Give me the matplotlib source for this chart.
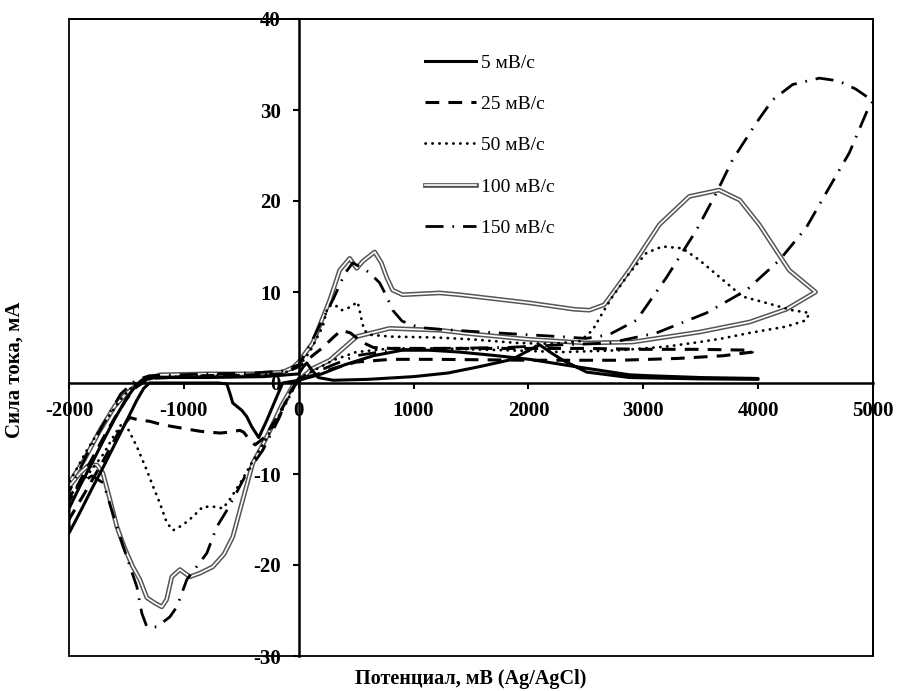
#!/usr/bin/env python

"""
Cyclic voltammograms at five scan rates (5 ... 150 mV/s).
Curves are closed loops: cathodic scan from 0, return from -2000,
anodic scan up to the vertex, then back to 0.
"""

import matplotlib
matplotlib.use('Agg')
import matplotlib.pyplot as plt
import matplotlib.patheffects as pe
from matplotlib.patches import Rectangle

plt.rcParams['font.family'] = ['Liberation Serif', 'DejaVu Serif']
plt.rcParams['axes.unicode_minus'] = False

# ---- data: potential (mV) and current (mA) ----
labels = ['5 мВ/с', '25 мВ/с', '50 мВ/с', '100 мВ/с', '150 мВ/с']

e5 = [0, -140, -278, -348, -409, -452, -496, -574, -600, -626, -700, -1000, -1300, -1350, -1410,
      -1500, -1600, -1700, -1800, -1900, -2000,
      -2000, -1900, -1800, -1700, -1600, -1500, -1420, -1350, -1250, -800, -300, -100, 0, 40, 70,
      110, 170, 300, 600, 1000, 1300, 1575, 1860, 1990, 2097, 2200, 2300, 2506, 2880, 3500, 4000,
      4000, 3500, 3054, 2880, 2620, 2358, 2010, 1723, 1400, 1140, 900, 650, 400, 200, 0]
i5 = [0.3, 0.0, -4.1, -6.0, -4.8, -3.7, -3.0, -2.2, -1.1, -0.1, 0.0, 0.0, 0.0, -0.6, -1.9,
      -4.2, -6.7, -9.2, -11.6, -14.1, -16.5,
      -13.8, -11.2, -8.8, -6.3, -3.9, -1.7, -0.3, 0.4, 0.6, 0.6, 0.7, 0.9, 1.0, 1.8, 2.2,
      1.5, 0.6, 0.3, 0.4, 0.7, 1.1, 1.8, 2.6, 3.5, 4.2, 3.3, 2.5, 1.2, 0.6, 0.45, 0.4,
      0.5, 0.6, 0.8, 0.9, 1.4, 1.9, 2.6, 3.0, 3.4, 3.6, 3.6, 3.0, 2.0, 1.0, 0.3]

e25 = [0, -100, -200, -300, -380, -430, -480, -513, -600, -687, -861, -1000, -1183, -1300, -1383,
       -1470, -1550, -1700, -1850, -2000,
       -2000, -1850, -1700, -1600, -1500, -1420, -1300, -800, -400, -150, 0, 100, 200, 300, 370,
       450, 550, 650, 800, 1200, 2000, 2500, 3000, 3500, 3950,
       3950, 3700, 3300, 2800, 2000, 1200, 800, 500, 300, 150, 0]
i25 = [0.5, -1.8, -4.0, -6.0, -6.8, -6.2, -5.4, -5.2, -5.4, -5.5, -5.3, -5.0, -4.6, -4.2, -4.1,
       -3.8, -5.0, -8.5, -11.8, -15.0,
       -13.0, -9.5, -6.0, -3.8, -1.8, -0.5, 0.5, 0.8, 0.9, 1.0, 1.8, 2.8, 3.8, 5.0, 5.8,
       5.5, 4.5, 3.9, 3.8, 3.8, 3.8, 3.8, 3.7, 3.7, 3.6,
       3.4, 3.0, 2.7, 2.5, 2.5, 2.6, 2.6, 2.3, 1.6, 0.9, 0.5]

e50 = [0, -100, -200, -300, -400, -500, -600, -661, -713, -835, -922, -1009, -1096, -1150, -1209,
       -1270, -1322, -1409, -1496, -1531, -1600, -1700, -1850, -2000,
       -2000, -1850, -1700, -1550, -1420, -1300, -800, -400, -150, 0, 100, 209, 252, 313, 374,
       440, 513, 530, 548, 570, 620, 800, 1200, 1500, 1900, 2200, 2450, 2558, 2645, 2732,
       2880, 3028, 3167, 3341, 3489, 3724, 3863, 4071, 4297, 4445,
       4419, 4245, 3924, 3689, 3489, 3200, 2800, 2300, 1800, 1200, 800, 500, 300, 150, 0]
i50 = [0.5, -2.0, -4.2, -6.5, -8.6, -10.8, -12.8, -13.8, -13.6, -13.6, -14.7, -15.6, -16.2, -15.3, -13.2,
       -11.3, -9.6, -7.0, -4.8, -4.3, -5.6, -7.8, -10.3, -12.5,
       -11.0, -7.5, -4.5, -1.8, 0.0, 0.6, 0.8, 0.9, 1.0, 1.8, 3.5, 6.2, 8.4, 8.6, 8.0,
       8.3, 8.9, 8.0, 6.9, 5.8, 5.3, 5.1, 5.0, 4.8, 4.4, 4.3, 4.6, 5.8, 7.7, 9.5,
       12.1, 14.3, 15.0, 14.8, 13.5, 11.0, 9.5, 8.8, 8.0, 7.7,
       6.9, 6.2, 5.5, 4.9, 4.5, 4.0, 3.6, 3.4, 3.6, 3.8, 3.8, 3.4, 2.5, 1.5, 0.5]

e100 = [0, -50, -150, -250, -330, -400, -480, -574, -650, -748, -861, -948, -1035, -1105, -1150,
        -1192, -1250, -1322, -1383, -1444, -1520, -1583, -1650, -1705, -1757, -1835, -1905, -2000,
        -2000, -1870, -1731, -1600, -1496, -1357, -1209, -800, -400, -139, -50, 0, 122, 270, 357,
        444, 505, 560, 661, 720, 766, 818, 905, 1227, 1400, 2010, 2400, 2530, 2660, 2880,
        3140, 3400, 3660, 3840, 4010, 4270, 4500,
        4245, 3925, 3490, 2905, 2500, 2000, 1500, 1227, 790, 505, 270, 122, 0]
i100 = [0.3, -0.3, -2.5, -5.2, -7.2, -8.8, -12.5, -16.9, -18.8, -20.2, -20.9, -21.3, -20.5, -21.3, -23.8,
        -24.6, -24.2, -23.6, -21.6, -20.2, -18.0, -15.8, -12.5, -9.9, -9.0, -9.1, -9.9, -11.4,
        -11.0, -8.5, -5.2, -2.5, -1.1, 0.3, 0.9, 1.0, 1.0, 1.2, 1.7, 2.3, 4.4, 9.1, 12.4,
        13.7, 12.6, 13.4, 14.4, 13.2, 11.6, 10.2, 9.7, 9.9, 9.7, 8.8, 8.1, 8.0, 8.6, 12.4,
        17.4, 20.5, 21.2, 20.1, 17.4, 12.4, 10.0,
        8.1, 6.7, 5.6, 4.5, 4.4, 4.8, 5.4, 5.8, 6.0, 5.1, 2.5, 1.6, 0.3]

e150 = [0, -100, -165, -313, -452, -540, -626, -713, -800, -974, -1061, -1122, -1235, -1322, -1366,
        -1383, -1409, -1500, -1583, -1700, -1800, -1900, -2000,
        -2000, -1850, -1700, -1550, -1420, -1300, -800, -400, -150, 0, 100, 200, 300, 400, 470,
        560, 618, 705, 766, 818, 900, 1050, 1227, 1600, 2000, 2270, 2500, 2700, 2941, 3202,
        3463, 3637, 3776, 3985, 4125, 4300, 4533, 4700, 4850, 5000,
        4942, 4794, 4620, 4420, 4185, 3898, 3550, 3115, 2706, 2300, 1800, 1200, 800, 500, 300, 150, 0]
i150 = [0.5, -1.5, -3.7, -7.4, -9.9, -12.0, -14.0, -15.8, -18.7, -21.6, -24.6, -25.7, -26.8, -26.8, -25.3,
        -24.2, -22.4, -19.0, -15.8, -11.0, -10.2, -11.0, -12.5,
        -12.0, -8.0, -4.5, -1.2, 0.3, 0.8, 1.0, 1.1, 1.3, 2.0, 4.2, 6.8, 9.2, 12.0, 13.2,
        12.6, 12.1, 11.0, 9.5, 8.0, 6.8, 6.1, 5.9, 5.6, 5.3, 5.1, 4.9, 5.3, 6.9, 11.6,
        16.8, 20.9, 24.5, 28.6, 31.1, 32.8, 33.5, 33.2, 32.3, 31.0,
        29.7, 25.3, 21.5, 17.1, 13.5, 10.2, 7.7, 5.5, 4.4, 4.2, 3.9, 3.8, 3.6, 3.0, 2.0, 1.2, 0.5]

x_ticks = [-2000, -1000, 0, 1000, 2000, 3000, 4000, 5000]
y_ticks = [-30, -20, -10, 0, 10, 20, 30, 40]

# ---- figure ----
fig = plt.figure(figsize=(8.97, 6.91), dpi=100)
ax = fig.add_axes([69 / 897, 1 - 656 / 691, 804 / 897, 637 / 691])

# double line for 100 mV/s goes first so the others sit on top of it
l100, = ax.plot(e100, i100, color='white', lw=1.2, label=labels[3],
                path_effects=[pe.Stroke(linewidth=3.4, foreground='#555555'), pe.Normal()])
l5, = ax.plot(e5, i5, color='black', lw=2.2, label=labels[0])
l25, = ax.plot(e25, i25, color='black', lw=2.2, dashes=(4.5, 3.0), label=labels[1])
l50, = ax.plot(e50, i50, color='black', lw=2.0, dashes=(0.1, 2.4),
               dash_capstyle='round', label=labels[2])
l150, = ax.plot(e150, i150, color='black', lw=2.0, dashes=(6.5, 3.2, 0.6, 3.2),
                label=labels[4])

ax.set_xlim(-2000, 5000)
ax.set_ylim(-30, 40)
ax.set_xticks(x_ticks)
ax.set_yticks(y_ticks)

# axes cross at the origin, the frame stays round the box
ax.spines['left'].set_position(('data', 0))
ax.spines['bottom'].set_position(('data', 0))
for side in ['left', 'bottom']:
    ax.spines[side].set_linewidth(1.8)
for side in ['top', 'right']:
    ax.spines[side].set_linewidth(1.3)
ax.add_patch(Rectangle((0, 0), 1, 1, transform=ax.transAxes, fill=False,
                       lw=1.3, edgecolor='black', clip_on=False, zorder=3))

ax.tick_params(axis='both', direction='out', length=4.5, width=1.5,
               labelsize=15, pad=8.5)
for lab in ax.get_xticklabels() + ax.get_yticklabels():
    lab.set_fontweight('bold')

ax.set_xlabel('Потенциал, мВ (Ag/AgCl)', fontsize=14.5, fontweight='bold')
ax.xaxis.set_label_coords(0.5, -0.021)
ax.set_ylabel('Сила тока, мА', fontsize=15, fontweight='bold')
ax.yaxis.set_label_coords(-0.055, 0.45)

ax.legend(handles=[l5, l25, l50, l100, l150], loc='upper left',
          bbox_to_anchor=(425 / 897, 1 - 54 / 691), bbox_transform=fig.transFigure,
          frameon=False, fontsize=14, handlelength=2.6, handletextpad=0.3,
          labelspacing=1.22, borderpad=0, borderaxespad=0)

fig.savefig('out.png', dpi=100, facecolor='white')
